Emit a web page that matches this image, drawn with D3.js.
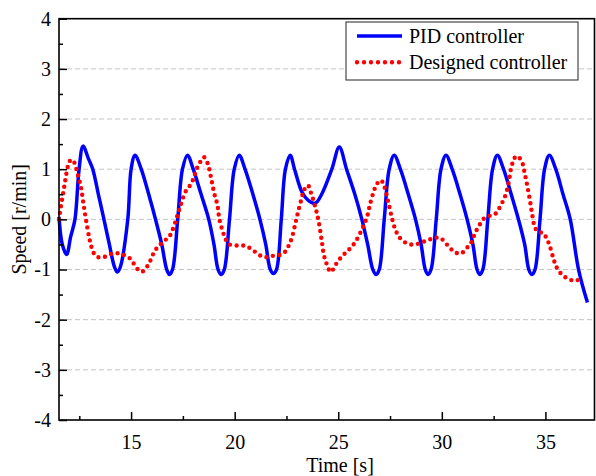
<!DOCTYPE html>
<html>
<head>
<meta charset="utf-8">
<script src="https://cdn.jsdelivr.net/npm/d3@7"></script>
<style>
  body { margin: 0; background: #fff; }
  text { font-family: "Liberation Serif", "Times New Roman", serif; }
</style>
</head>
<body>
<svg id="chart"></svg>
<script>
// Chart data
const pidTime = [11.52, 11.68, 11.89, 12.08, 12.29, 12.49, 12.68, 12.95, 13.15, 13.42, 13.69, 13.95, 14.2, 14.34, 14.48, 14.84, 15.0, 15.19,
  15.49, 15.85, 16.18, 16.48, 16.72, 16.85, 17.0, 17.25, 17.48, 17.72,
  18.0, 18.38, 18.75, 19.0, 19.2, 19.35, 19.5, 19.75, 19.98, 20.22,
  20.5, 20.88, 21.22, 21.5, 21.72, 21.87, 22.02, 22.25, 22.45, 22.68,
  22.89, 23.24, 23.55, 23.89, 24.2, 24.69, 25.05,
  25.4, 25.8, 26.14, 26.42, 26.67, 26.83, 26.98, 27.22, 27.46, 27.7,
  28.0, 28.38, 28.73, 29.0, 29.2, 29.33, 29.48, 29.73, 29.96, 30.2,
  30.5, 30.88, 31.22, 31.5, 31.7, 31.83, 31.98, 32.22, 32.45, 32.68,
  32.98, 33.35, 33.7, 34.0, 34.2, 34.35, 34.5, 34.74, 34.96, 35.19,
  35.5, 35.85, 36.2, 36.6, 37.03];
const pidSpeed = [0.05, -0.5, -0.70, -0.35, 0.0, 1.0, 1.46, 1.2, 1.0, 0.5, 0.0, -0.5, -0.95, -1.05, -0.95, 0.0, 1.0, 1.28,
  1.0, 0.5, 0.0, -0.5, -1.0, -1.1, -1.0, 0.0, 1.0, 1.28,
  1.0, 0.5, 0.0, -0.5, -1.0, -1.1, -1.0, 0.0, 1.0, 1.28,
  1.0, 0.5, 0.0, -0.5, -1.0, -1.08, -1.0, 0.0, 1.0, 1.28,
  1.0, 0.55, 0.38, 0.32, 0.5, 1.0, 1.44,
  1.0, 0.5, 0.0, -0.5, -1.0, -1.1, -1.0, 0.0, 1.0, 1.28,
  1.0, 0.5, 0.0, -0.5, -1.0, -1.1, -1.0, 0.0, 1.0, 1.28,
  1.0, 0.5, 0.0, -0.5, -1.0, -1.1, -1.0, 0.0, 1.0, 1.28,
  1.0, 0.5, 0.0, -0.5, -1.0, -1.1, -1.0, 0.0, 1.0, 1.28,
  1.0, 0.5, 0.0, -1.0, -1.66];

const designedTime = [11.52, 11.62, 11.73, 11.84, 11.97, 12.1, 12.25, 12.4, 12.57, 12.73, 12.89, 13.02, 13.18, 13.34, 13.55, 13.79,
  14.1, 14.42, 14.66, 14.95, 15.16, 15.38, 15.5, 15.64, 15.83, 15.99, 16.12, 16.32, 16.56, 16.83, 16.99,
  17.2, 17.41, 17.61, 17.82, 17.98, 18.2, 18.36, 18.52, 18.7, 18.86, 19.0, 19.17, 19.26, 19.43, 19.54, 19.7,
  20.05, 20.37, 20.63, 20.9, 21.15, 21.39, 21.63, 21.92, 22.24, 22.49, 22.63, 22.76, 22.92, 23.08, 23.24, 23.32,
  23.53, 23.69, 23.89, 24.05, 24.21, 24.31, 24.41, 24.5, 24.65, 24.82, 25.01, 25.22, 25.42, 25.66, 25.87, 26.14,
  26.39, 26.54, 26.74, 26.87, 27.06, 27.22, 27.4, 27.59, 27.75, 27.88, 28.04, 28.28, 28.52, 28.83, 29.09, 29.36,
  29.65, 29.93, 30.17, 30.38, 30.6, 30.93, 31.18, 31.38, 31.54, 31.67, 31.82, 32.02, 32.31, 32.58, 32.74, 32.91,
  33.07, 33.23, 33.34, 33.42, 33.52, 33.63, 33.74, 33.9, 33.98, 34.11, 34.24, 34.35, 34.47, 34.6, 34.75, 34.89,
  35.08, 35.21, 35.4, 35.51, 35.67, 35.88, 36.17, 36.5, 36.77];
const designedSpeed = [0.0, 0.28, 0.54, 0.82, 1.09, 1.19, 1.14, 0.93, 0.66, 0.23, -0.17, -0.44, -0.66, -0.74, -0.76, -0.74,
  -0.68, -0.68, -0.71, -0.78, -0.9, -1.02, -1.04, -1.02, -0.9, -0.77, -0.64, -0.54, -0.44, -0.35, -0.22,
  0.03, 0.31, 0.54, 0.66, 0.78, 1.04, 1.16, 1.24, 1.11, 0.83, 0.54, 0.28, 0.01, -0.25, -0.37, -0.49,
  -0.52, -0.52, -0.55, -0.62, -0.7, -0.75, -0.75, -0.72, -0.7, -0.62, -0.5, -0.37, -0.1, 0.18, 0.43, 0.56,
  0.68, 0.52, 0.25, -0.03, -0.45, -0.72, -0.85, -0.96, -1.05, -0.94, -0.82, -0.72, -0.64, -0.54, -0.42, -0.2,
  0.05, 0.31, 0.59, 0.71, 0.78, 0.66, 0.37, 0.03, -0.2, -0.31, -0.4, -0.47, -0.5, -0.49, -0.45, -0.41,
  -0.37, -0.37, -0.47, -0.56, -0.65, -0.68, -0.58, -0.49, -0.34, -0.22, -0.11, 0.01, 0.07, 0.11, 0.2, 0.33,
  0.48, 0.74, 1.01, 1.13, 1.23, 1.26, 1.23, 1.11, 0.96, 0.70, 0.41, 0.13, -0.13, -0.23, -0.26, -0.27,
  -0.4, -0.53, -0.8, -0.93, -1.04, -1.13, -1.2, -1.22, -1.15];

const xTicks = [15, 20, 25, 30, 35];
const xMinorTicks = [12.5, 17.5, 22.5, 27.5, 32.5];
const yTicks = [-4, -3, -2, -1, 0, 1, 2, 3, 4];
const yMinorTicks = [-3.5, -2.5, -1.5, -0.5, 0.5, 1.5, 2.5, 3.5];
const gridValues = [-3, -2, -1, 0, 1, 2, 3];
const seriesNames = ["PID controller", "Designed controller"];

const width = 596;
const height = 476;
const margin = { left: 59, right: 1.5, top: 18.7, bottom: 56 };

const svg = d3.select("#chart")
  .attr("width", width)
  .attr("height", height);

const x = d3.scaleLinear()
  .domain([11.52, 37.37])
  .range([margin.left, width - margin.right]);

const y = d3.scaleLinear()
  .domain([-4, 4])
  .range([height - margin.bottom, margin.top]);

// dashed horizontal grid
svg.append("g")
  .selectAll("line")
  .data(gridValues)
  .join("line")
  .attr("x1", x.range()[0])
  .attr("x2", x.range()[1])
  .attr("y1", d => y(d))
  .attr("y2", d => y(d))
  .attr("stroke", "#c4c4c4")
  .attr("stroke-width", 1)
  .attr("stroke-dasharray", "5,3");

// series
const pidData = pidTime.map((t, i) => [t, pidSpeed[i]]);
const designedData = designedTime.map((t, i) => [t, designedSpeed[i]]);

const line = d3.line()
  .x(d => x(d[0]))
  .y(d => y(d[1]))
  .curve(d3.curveCatmullRom.alpha(0.5));

svg.append("path")
  .datum(pidData)
  .attr("d", line)
  .attr("fill", "none")
  .attr("stroke", "#0000ff")
  .attr("stroke-width", 3.5);

svg.append("path")
  .datum(designedData)
  .attr("d", line)
  .attr("fill", "none")
  .attr("stroke", "#ff0000")
  .attr("stroke-width", 4.4)
  .attr("stroke-linecap", "round")
  .attr("stroke-dasharray", "0,6.6");

// axes (ticks point inward), plain hyphen for negatives
const fmt = d => String(d);
const xAxis = d3.axisBottom(x).tickValues(xTicks).tickSize(-8).tickPadding(15).tickFormat(fmt);
const xMinor = d3.axisBottom(x).tickValues(xMinorTicks).tickSize(-4).tickFormat("");
const yAxis = d3.axisLeft(y).tickValues(yTicks).tickSize(-8).tickPadding(8).tickFormat(fmt);
const yMinor = d3.axisLeft(y).tickValues(yMinorTicks).tickSize(-4).tickFormat("");

function styleAxis(g) {
  g.select(".domain").remove();
  g.selectAll(".tick line").attr("stroke", "#000").attr("stroke-width", 1.5);
  g.selectAll(".tick text")
    .attr("fill", "#000")
    .style("font-size", "20px")
    .style("font-family", "'Liberation Serif', 'Times New Roman', serif");
}

svg.append("g").attr("transform", `translate(0,${y(-4)})`).call(xAxis).call(styleAxis);
svg.append("g").attr("transform", `translate(0,${y(-4)})`).call(xMinor).call(styleAxis);
svg.append("g").attr("transform", `translate(${x.range()[0]},0)`).call(yAxis).call(styleAxis);
svg.append("g").attr("transform", `translate(${x.range()[0]},0)`).call(yMinor).call(styleAxis);

// frame
svg.append("rect")
  .attr("x", x.range()[0])
  .attr("y", y(4))
  .attr("width", x.range()[1] - x.range()[0])
  .attr("height", y(-4) - y(4))
  .attr("fill", "none")
  .attr("stroke", "#000")
  .attr("stroke-width", 1.6);

// axis titles
svg.append("text")
  .attr("x", 340)
  .attr("y", 472)
  .attr("text-anchor", "middle")
  .style("font-size", "20px")
  .text("Time [s]");

svg.append("text")
  .attr("transform", `translate(26,${y(0)}) rotate(-90)`)
  .attr("text-anchor", "middle")
  .style("font-size", "20px")
  .text("Speed [r/min]");

// legend
const legend = svg.append("g");
legend.append("rect")
  .attr("x", 346)
  .attr("y", 22)
  .attr("width", 232)
  .attr("height", 58)
  .attr("fill", "#fff")
  .attr("stroke", "#222")
  .attr("stroke-width", 1);

const legendRows = [
  { name: seriesNames[0], color: "#0000ff", dash: null, w: 3.5 },
  { name: seriesNames[1], color: "#ff0000", dash: "0,7", w: 4.4 }
];

legendRows.forEach((r, i) => {
  const cy = 36 + i * 26.3;
  legend.append("line")
    .attr("x1", 357).attr("x2", 402)
    .attr("y1", cy).attr("y2", cy)
    .attr("stroke", r.color)
    .attr("stroke-width", r.w)
    .attr("stroke-linecap", r.dash ? "round" : "butt")
    .attr("stroke-dasharray", r.dash);
  legend.append("text")
    .attr("x", 409)
    .attr("y", cy + 7)
    .style("font-size", "20px")
    .text(r.name);
});
</script>
</body>
</html>
